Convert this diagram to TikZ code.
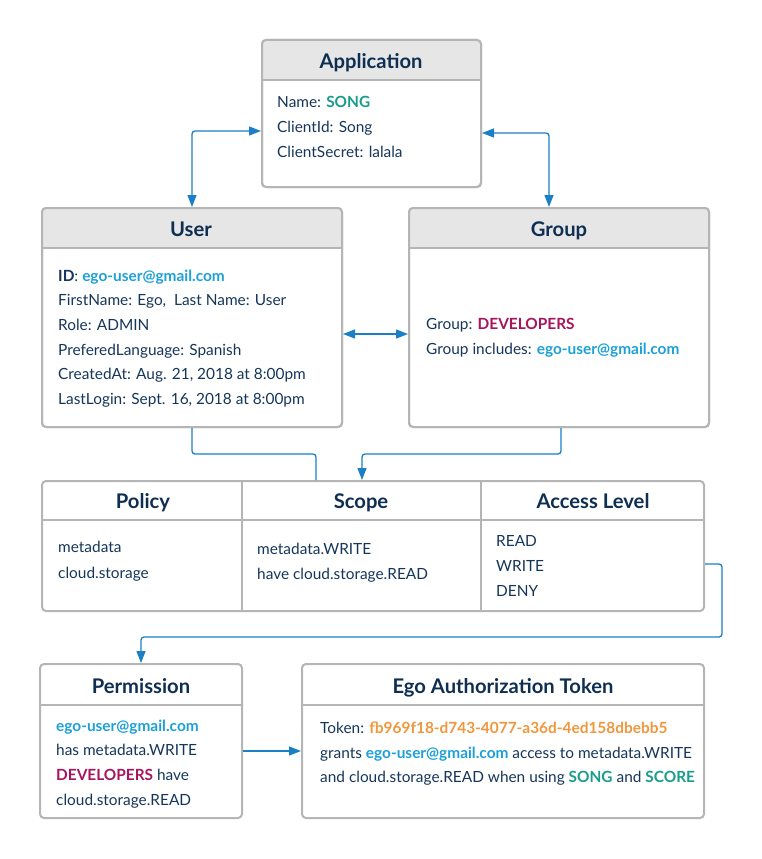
\documentclass[tikz,border=0pt]{standalone}
\usepackage{fontspec}
\setmainfont{Lato}
\usetikzlibrary{arrows.meta}
\definecolor{cTxt}{HTML}{15365A}
\definecolor{cTtl}{HTML}{0E2E52}
\definecolor{cSong}{HTML}{1A9C8C}
\definecolor{cMail}{HTML}{1BA0D8}
\definecolor{cDev}{HTML}{A8155F}
\definecolor{cTok}{HTML}{F0963C}
\definecolor{cLine}{HTML}{1A7FC4}
\definecolor{cBorder}{HTML}{B5B5B5}
\definecolor{cHdr}{HTML}{E6E6E6}
\newcommand{\mail}{\textbf{\textcolor{cMail}{ego-user@gmail.com}}}
\newcommand{\song}[1]{\textbf{\textcolor{cSong}{#1}}}
\newcommand{\dev}{\textbf{\textcolor{cDev}{DEVELOPERS}}}
\begin{document}
\begin{tikzpicture}[x=1pt,y=-1pt,
  box/.style={draw=cBorder, line width=2pt, rounded corners=4pt, inner sep=0pt},
  sep/.style={draw=cBorder, line width=2pt},
  ttl/.style={anchor=base, inner sep=0pt, text=cTtl, font=\fontsize{20.2}{23}\selectfont\bfseries},
  txt/.style={anchor=base west, inner sep=0pt, text=cTxt, font=\fontsize{15.4}{18}\selectfont},
  conn/.style={draw=cLine, line width=1.3pt, rounded corners=3pt},
  tip/.tip={Triangle[length=12pt,width=9pt]}
]
\useasboundingbox (0,0) rectangle (762,859);

% ---------- boxes ----------
\node[box, minimum width=219pt, minimum height=147pt] (app) at (371.5,113.5) {};
\node[box, minimum width=300pt, minimum height=219pt] (user) at (192,317.5) {};
\node[box, minimum width=300pt, minimum height=219pt] (group) at (559,317.5) {};
\node[box, minimum width=662pt, minimum height=130pt] (table) at (373,546) {};
\node[box, minimum width=202pt, minimum height=154pt] (perm) at (141,741) {};
\node[box, minimum width=402pt, minimum height=154pt] (tok) at (503,741) {};

% header fills
\begin{scope}
  \clip[rounded corners=4pt] (app.north west) rectangle (app.south east);
  \fill[cHdr] (app.north west) rectangle (481,80);
\end{scope}
\begin{scope}
  \clip[rounded corners=4pt] (user.north west) rectangle (user.south east);
  \fill[cHdr] (user.north west) rectangle (342,248);
\end{scope}
\begin{scope}
  \clip[rounded corners=4pt] (group.north west) rectangle (group.south east);
  \fill[cHdr] (group.north west) rectangle (709,248);
\end{scope}
\node[box, minimum width=219pt, minimum height=147pt] at (app) {};
\node[box, minimum width=300pt, minimum height=219pt] at (user) {};
\node[box, minimum width=300pt, minimum height=219pt] at (group) {};

% header separators
\draw[sep] (262,80) -- (481,80);
\draw[sep] (42,248) -- (342,248);
\draw[sep] (409,248) -- (709,248);
\draw[sep] (42,520) -- (704,520);
\draw[sep] (242,481) -- (242,611);
\draw[sep] (481,481) -- (481,611);
\draw[sep] (40,705) -- (242,705);
\draw[sep] (302,705) -- (704,705);

% ---------- titles ----------
\node[ttl] (tApp) at (371,68) {Application};
\node[ttl] (tUser) at (191,236) {User};
\node[ttl] (tGroup) at (559,236) {Group};
\node[ttl] (tPol) at (143,508) {Policy};
\node[ttl] (tScp) at (361,508) {Scope};
\node[ttl] (tAcc) at (593,508) {Access Level};
\node[ttl] (tPerm) at (141,693) {Permission};
\node[ttl] (tTok) at (503,693) {Ego Authorization Token};

% ---------- body texts ----------
\node[txt] (a1) at (277,107.5) {Name: \song{SONG}};
\node[txt] (a2) at (277,132.5) {ClientId: Song};
\node[txt] (a3) at (277,157.5) {ClientSecret: lalala};

\node[txt] (u1) at (58,281.5) {\textbf{ID}: \mail};
\node[txt] (u2) at (58,305.5) {FirstName: Ego,\ \ Last Name: User};
\node[txt] (u3) at (58,330.5) {Role: ADMIN};
\node[txt] (u4) at (58,355.5) {PreferedLanguage: Spanish};
\node[txt] (u5) at (58,379.5) {CreatedAt: Aug. 21, 2018 at 8:00pm};
\node[txt] (u6) at (58,404.5) {LastLogin: Sept. 16, 2018 at 8:00pm};

\node[txt] (g1) at (426,329.5) {Group: \dev};
\node[txt] (g2) at (426,354.5) {Group includes: \mail};

\node[txt] (p1) at (58,552.5) {metadata};
\node[txt] (p2) at (58,578.5) {cloud.storage};
\node[txt] (s1) at (257,554.5) {metadata.WRITE};
\node[txt] (s2) at (257,579.5) {have cloud.storage.READ};
\node[txt] (l1) at (496,546.5) {READ};
\node[txt] (l2) at (496,571.5) {WRITE};
\node[txt] (l3) at (496,596.5) {DENY};

\node[txt] (m1) at (56,731.5) {\mail};
\node[txt] (m2) at (56,755.5) {has metadata.WRITE};
\node[txt] (m3) at (56,780.5) {\dev{} have};
\node[txt] (m4) at (56,805.5) {cloud.storage.READ};

\node[txt] (k1) at (320,733.5) {Token: \textbf{\textcolor{cTok}{fb969f18-d743-4077-a36d-4ed158dbebb5}}};
\node[txt] (k2) at (320,758.5) {grants \mail{} access to metadata.WRITE};
\node[txt] (k3) at (320,782.5) {and cloud.storage.READ when using \song{SONG} and \song{SCORE}};

% ---------- connectors ----------
\draw[conn, {tip}-{tip}] ([yshift=-17.5pt]app.west) -| (user.north);
\draw[conn, {tip}-{tip}] ([yshift=-19.5pt]app.east) -| ([xshift=-10pt]group.north);
\draw[conn, {tip}-{tip}] ([yshift=-16.5pt]user.east) -- ([yshift=-16.5pt]group.west);
\draw[conn] (user.south) -- ++(0,26) -| ([xshift=-57pt]table.north);
\draw[conn, -{tip}] ([xshift=2pt]group.south) -- ++(0,26) -| ([xshift=-11pt]table.north);
\draw[conn, -{tip}] ([yshift=-18pt]table.east) -- ++(17,0) -- ++(0,73) -| (perm.north);
\draw[conn, -{tip}] ([yshift=-10pt]perm.east) -- ([yshift=-10pt]tok.west);
\end{tikzpicture}
\end{document}
